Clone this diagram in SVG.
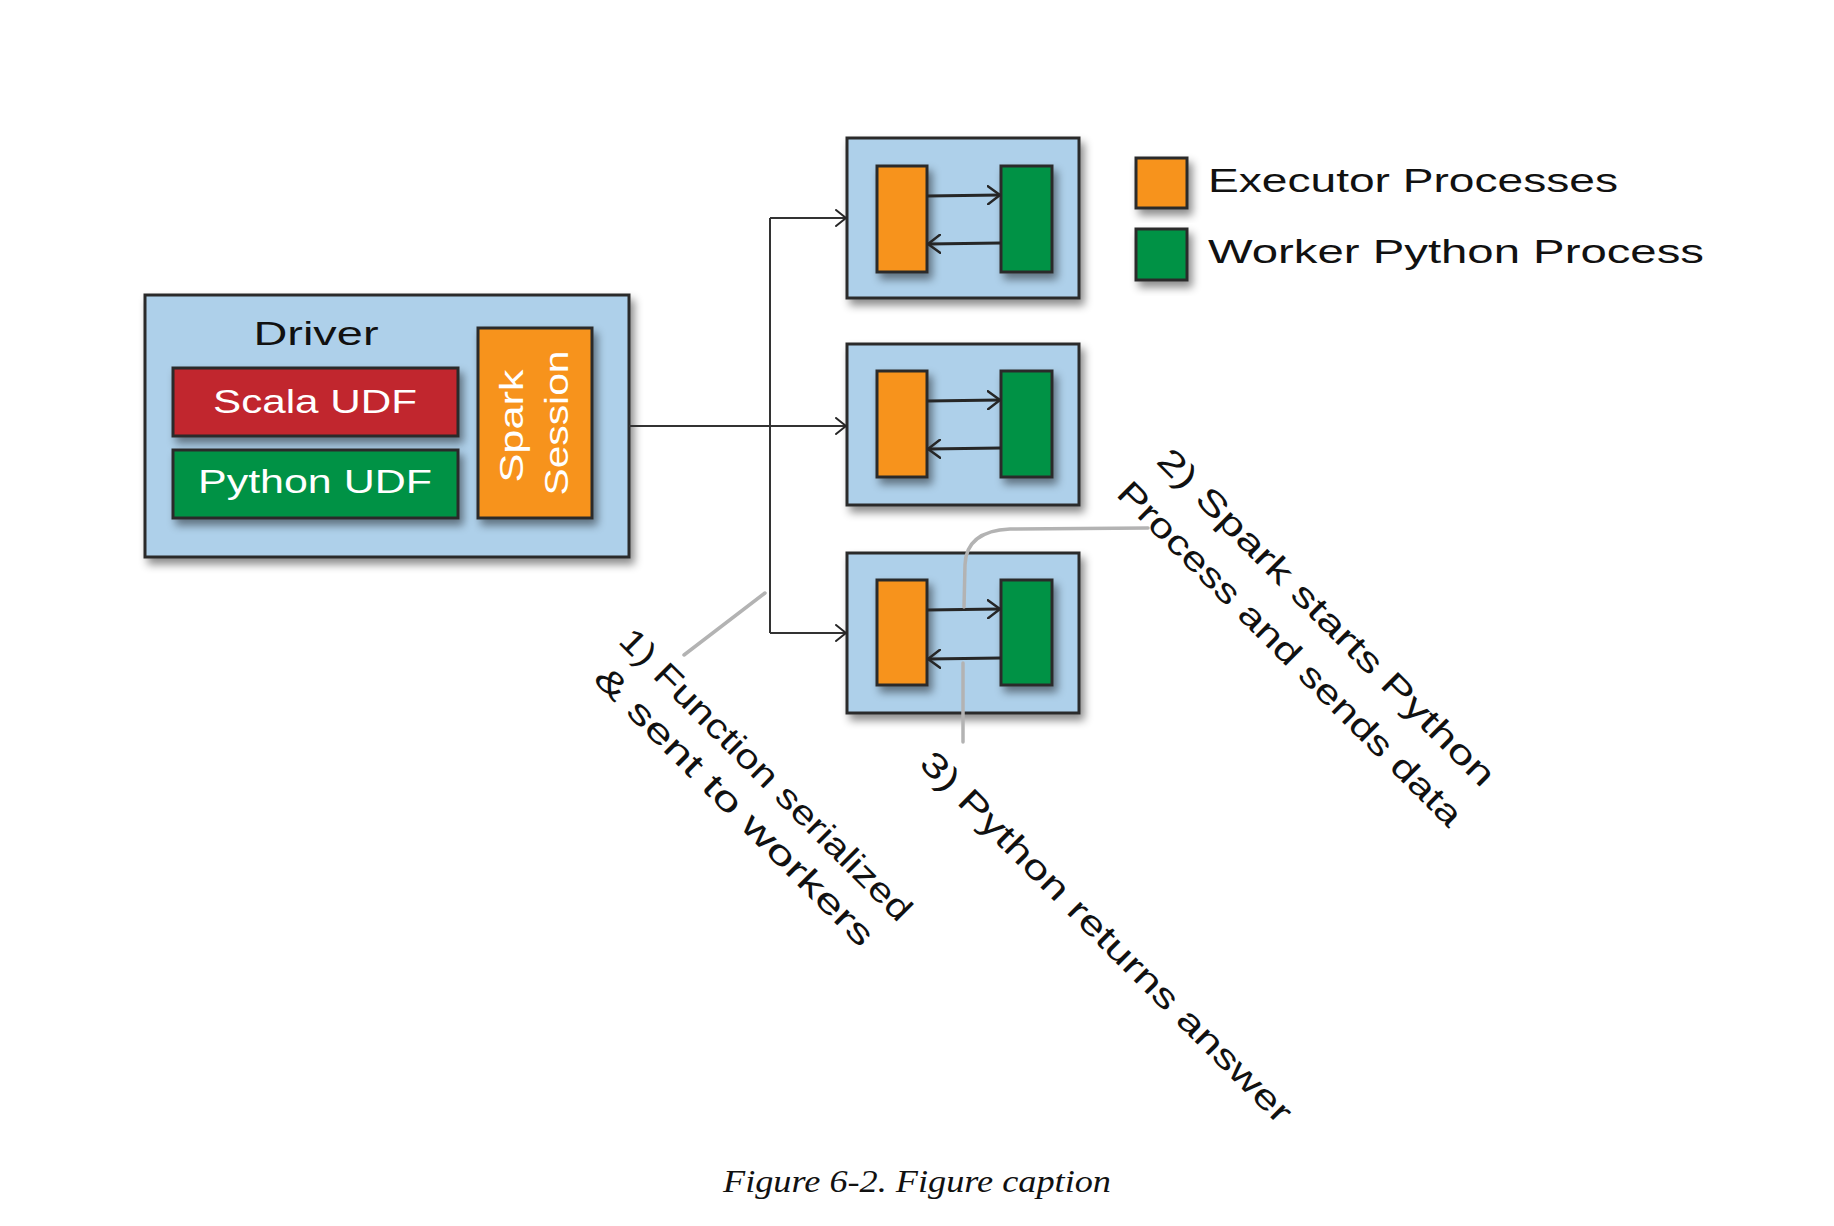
<svg xmlns="http://www.w3.org/2000/svg" width="1834" height="1226" viewBox="0 0 1834 1226">
<defs>
<filter id="sh" x="-20%" y="-20%" width="150%" height="150%">
<feDropShadow dx="4" dy="6" stdDeviation="4" flood-color="#000" flood-opacity="0.45"/>
</filter>
<marker id="ah" markerUnits="userSpaceOnUse" viewBox="0 0 14 20" refX="13" refY="10" markerWidth="14" markerHeight="20" orient="auto">
<path d="M1,1 L13,10 L1,19" fill="none" stroke="#262626" stroke-width="2.5" stroke-linecap="round" stroke-linejoin="round"/>
</marker>
<marker id="ah2" markerUnits="userSpaceOnUse" viewBox="0 0 12 18" refX="11" refY="9" markerWidth="12" markerHeight="18" orient="auto">
<path d="M1,1 L11,9 L1,17" fill="none" stroke="#262626" stroke-width="2" stroke-linecap="round" stroke-linejoin="round"/>
</marker>
</defs>
<style>
.box{fill:#aed0ea;stroke:#2b2b2b;stroke-width:3;filter:url(#sh)}
.org{fill:#f7931e;stroke:#2b2b2b;stroke-width:3;filter:url(#sh)}
.grn{fill:#009245;stroke:#2b2b2b;stroke-width:3;filter:url(#sh)}
.red{fill:#c1272d;stroke:#2b2b2b;stroke-width:3;filter:url(#sh)}
.t{font-family:"Liberation Sans",Arial,sans-serif;font-size:34px;fill:#111}
.w{fill:#fff}
.in{fill:none;stroke:#262626;stroke-width:3;marker-end:url(#ah)}
.tr{fill:none;stroke:#333;stroke-width:2;marker-end:url(#ah2)}
.ln{fill:none;stroke:#333;stroke-width:2}
.gr{fill:none;stroke:#b3b3b3;stroke-width:3.5;stroke-linecap:round}
.cap{font-family:"Liberation Serif","Times New Roman",serif;font-style:italic;font-size:31px;fill:#111}
</style>

<g id="driver">
<rect class="box" x="145" y="295" width="484" height="262"/>
<text class="t" x="316" y="345" text-anchor="middle" textLength="125" lengthAdjust="spacingAndGlyphs">Driver</text>
</g>
<g id="scala-udf">
<rect class="red" x="173" y="368" width="285" height="68"/>
<text class="t w" x="315" y="413" text-anchor="middle" textLength="204" lengthAdjust="spacingAndGlyphs">Scala UDF</text>
</g>
<g id="python-udf">
<rect class="grn" x="173" y="450" width="285" height="68"/>
<text class="t w" x="315" y="493" text-anchor="middle" textLength="234" lengthAdjust="spacingAndGlyphs">Python UDF</text>
</g>
<g id="spark-session">
<rect class="org" x="478" y="328" width="114" height="190"/>
<text class="t w" transform="translate(523,426) rotate(-90)" text-anchor="middle" textLength="113" lengthAdjust="spacingAndGlyphs">Spark</text>
<text class="t w" transform="translate(568,423) rotate(-90)" text-anchor="middle" textLength="145" lengthAdjust="spacingAndGlyphs">Session</text>
</g>

<g id="executor-1">
<rect class="box" x="847" y="138" width="232" height="160"/>
<rect class="org" x="877" y="166" width="50" height="106"/>
<rect class="grn" x="1001" y="166" width="51" height="106"/>
</g>
<g id="executor-2">
<rect class="box" x="847" y="344" width="232" height="161"/>
<rect class="org" x="877" y="371" width="50" height="106"/>
<rect class="grn" x="1001" y="371" width="51" height="106"/>
</g>
<g id="executor-3">
<rect class="box" x="847" y="553" width="232" height="160"/>
<rect class="org" x="877" y="580" width="50" height="105"/>
<rect class="grn" x="1001" y="580" width="51" height="105"/>
</g>

<g id="legend">
<rect class="org" x="1136" y="158" width="51" height="50"/>
<text class="t" x="1208" y="192" textLength="410" lengthAdjust="spacingAndGlyphs">Executor Processes</text>
<rect class="grn" x="1136" y="229" width="51" height="51"/>
<text class="t" x="1208" y="263" textLength="496" lengthAdjust="spacingAndGlyphs">Worker Python Process</text>
</g>

<g id="connectors">
<path class="tr" d="M629,426 L846,426"/>
<path class="ln" d="M770,218 L770,633"/>
<path class="tr" d="M770,218 L846,218"/>
<path class="tr" d="M770,633 L846,633"/>
<path class="in" d="M927,196 L1000,195"/>
<path class="in" d="M1001,243 L928,244"/>
<path class="in" d="M927,401 L1000,400"/>
<path class="in" d="M1001,448 L928,449"/>
<path class="in" d="M927,610 L1000,609"/>
<path class="in" d="M1001,658 L928,659"/>
<path class="gr" d="M765,593 L684,655"/>
<path class="gr" d="M1148,528 L1010,529 Q966,531 965,565 L964,607"/>
<path class="gr" d="M963,663 L963,742"/>
</g>

<g id="annotations">
<text class="t" transform="translate(617,642) rotate(45)" textLength="398" lengthAdjust="spacingAndGlyphs">1) Function serialized</text>
<text class="t" transform="translate(592,680) rotate(45)" textLength="380" lengthAdjust="spacingAndGlyphs">&amp; sent to workers</text>
<text class="t" transform="translate(1155,462) rotate(45)" textLength="462" lengthAdjust="spacingAndGlyphs">2) Spark starts Python</text>
<text class="t" transform="translate(1115,495) rotate(45)" textLength="472" lengthAdjust="spacingAndGlyphs">Process and sends data</text>
<text class="t" transform="translate(918,765) rotate(45)" textLength="510" lengthAdjust="spacingAndGlyphs">3) Python returns answer</text>
</g>

<text class="cap" x="917" y="1192" text-anchor="middle" textLength="388" lengthAdjust="spacingAndGlyphs">Figure 6-2. Figure caption</text>
</svg>
